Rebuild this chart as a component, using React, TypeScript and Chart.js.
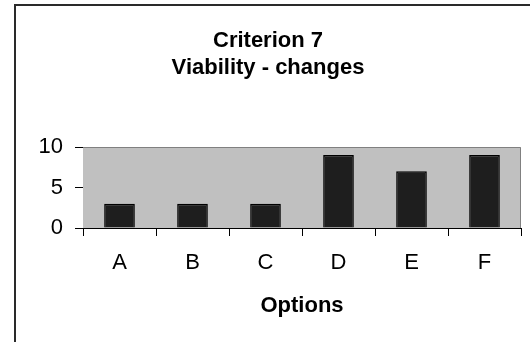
import React, { useEffect, useRef } from "react";
import { Chart, registerables } from "chart.js";

Chart.register(...registerables);

const categories = ["A", "B", "C", "D", "E", "F"];
const scores = [3, 3, 3, 9, 7, 9];
const yTicks = [0, 5, 10];
const titleLines = ["Criterion 7", "Viability - changes"];
const xTitle = "Options";

const FONT = "'Liberation Sans', Arial, sans-serif";

// Grey plot background, outer frame and the plot's top/right edges.
const framePlugin = {
  id: "frame",
  beforeDatasetsDraw(chart: any) {
    const { ctx, chartArea } = chart;
    const { left, top, right, bottom } = chartArea;
    ctx.save();
    ctx.fillStyle = "#c0c0c0";
    ctx.fillRect(left, top, right - left, bottom - top);
    ctx.restore();
  },
  afterDraw(chart: any) {
    const { ctx, chartArea, width, height } = chart;
    const { left, top, right, bottom } = chartArea;
    ctx.save();
    ctx.strokeStyle = "#808080";
    ctx.lineWidth = 1;
    ctx.beginPath();
    ctx.moveTo(left, top + 0.5);
    ctx.lineTo(right - 0.5, top + 0.5);
    ctx.lineTo(right - 0.5, bottom);
    ctx.stroke();
    ctx.strokeStyle = "#2a2a2a";
    ctx.lineWidth = 2;
    ctx.beginPath();
    ctx.moveTo(15, height);
    ctx.lineTo(15, 5);
    ctx.lineTo(width, 5);
    ctx.stroke();
    ctx.restore();
  },
};

// Two-line chart heading.
const headingPlugin = {
  id: "heading",
  afterDraw(chart: any) {
    const { ctx } = chart;
    const cx = 268;
    const baselines = [47, 74];
    ctx.save();
    ctx.fillStyle = "#000";
    ctx.font = `bold 22px ${FONT}`;
    ctx.textAlign = "center";
    ctx.textBaseline = "alphabetic";
    titleLines.forEach((line, i) => {
      ctx.fillText(line, cx, baselines[i]);
    });
    ctx.restore();
  },
};

export default function App() {
  const canvasRef = useRef<HTMLCanvasElement | null>(null);

  useEffect(() => {
    if (!canvasRef.current) return;
    const chart = new Chart(canvasRef.current, {
      type: "bar",
      data: {
        labels: categories,
        datasets: [
          {
            data: scores,
            backgroundColor: "#1e1e1e",
            borderColor: "#000000",
            borderWidth: 1.5,
            barPercentage: 0.42,
            categoryPercentage: 1,
          },
        ],
      },
      options: {
        animation: false,
        responsive: false,
        layout: { padding: { left: 14, right: 9, top: 147, bottom: 0 } },
        plugins: {
          legend: { display: false },
          tooltip: { enabled: false },
          title: { display: false },
        },
        scales: {
          x: {
            type: "category",
            offset: true,
            afterFit(scale: any) {
              scale.height = 114;
            },
            grid: {
              offset: true,
              drawOnChartArea: false,
              drawTicks: true,
              tickLength: 8,
              tickColor: "#000",
              color: "#000",
            },
            border: { display: true, color: "#000", width: 1 },
            ticks: {
              color: "#000",
              padding: 14,
              font: { family: FONT, size: 22, lineHeight: 1.2 },
            },
            title: {
              display: true,
              text: xTitle,
              color: "#000",
              font: { family: FONT, size: 22, weight: "bold", lineHeight: 1.2 },
              padding: { top: 0, bottom: 23 },
            },
          },
          y: {
            min: 0,
            max: 10,
            afterFit(scale: any) {
              scale.width = 69;
            },
            afterBuildTicks(scale: any) {
              scale.ticks = yTicks.map((v) => ({ value: v }));
            },
            grid: {
              drawTicks: true,
              tickLength: 8,
              tickColor: "#000",
              color: (ctx: any) =>
                ctx.tick && ctx.tick.value === 5 ? "#707070" : "rgba(0,0,0,0)",
            },
            border: { display: true, color: "#000", width: 1 },
            ticks: {
              color: "#000",
              padding: 12,
              font: { family: FONT, size: 22, lineHeight: 1.2 },
            },
          },
        },
      },
      plugins: [framePlugin, headingPlugin],
    });
    return () => chart.destroy();
  }, []);

  return (
    <div style={{ position: "absolute", left: 0, top: 0, width: 530, height: 342, background: "#fff" }}>
      <canvas ref={canvasRef} width={530} height={342} />
    </div>
  );
}
